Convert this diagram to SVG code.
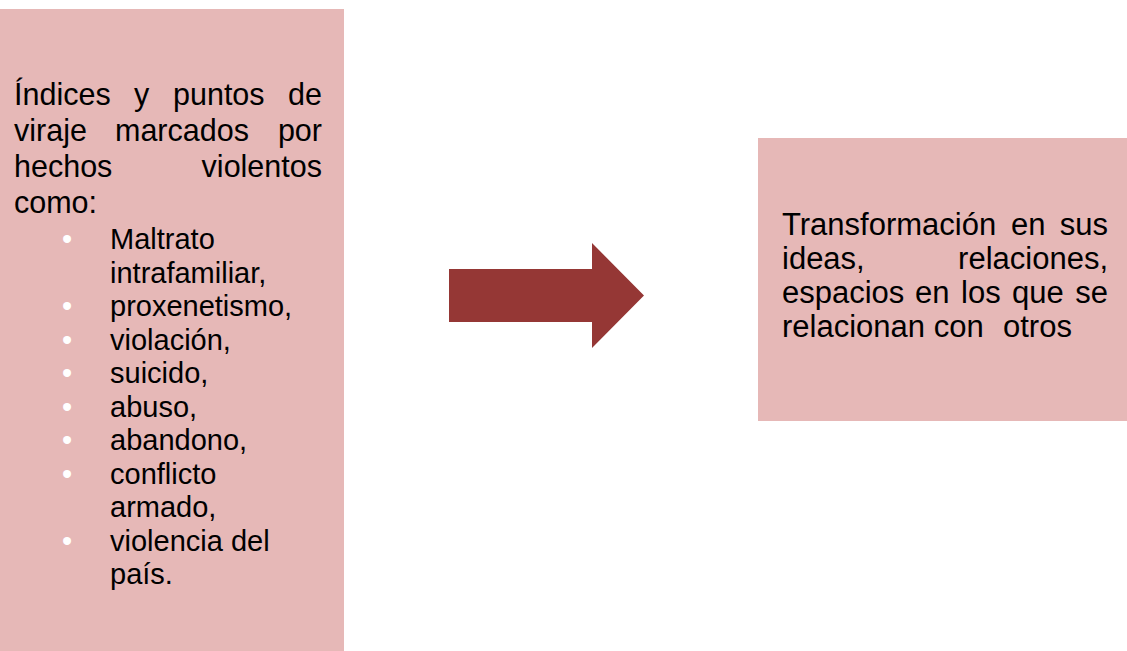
<svg xmlns="http://www.w3.org/2000/svg" width="1127" height="651" viewBox="0 0 1127 651">
<style>
.box{fill:#E6B8B7}
.t{font-family:"Liberation Sans",Arial,sans-serif;fill:#000}
.p{font-size:30.5px}
.r{font-size:31px}
.l{font-size:29px}
.b{font-family:"Liberation Sans",Arial,sans-serif;font-size:29px;fill:#fff}
.e{text-anchor:end}
</style>
<rect width="1127" height="651" fill="#fff"/>
<g id="node-left">
<rect class="box" x="0" y="9" width="344" height="642"/>
<text class="t p" y="105"><tspan x="14">Índices</tspan><tspan x="134">y</tspan><tspan x="173">puntos</tspan></text>
<text class="t p e" x="322" y="105">de</text>
<text class="t p" y="141"><tspan x="14">viraje</tspan><tspan x="115">marcados</tspan></text>
<text class="t p e" x="322" y="141">por</text>
<text class="t p" x="14" y="177">hechos</text>
<text class="t p e" x="322" y="177">violentos</text>
<text class="t p" x="14" y="213">como:</text>
<g class="b">
<text x="62" y="249">•</text>
<text x="62" y="316">•</text>
<text x="62" y="349.5">•</text>
<text x="62" y="383">•</text>
<text x="62" y="416.5">•</text>
<text x="62" y="450">•</text>
<text x="62" y="483.5">•</text>
<text x="62" y="550.5">•</text>
</g>
<g class="t l">
<text x="110" y="249">Maltrato</text>
<text x="110" y="282.5">intrafamiliar,</text>
<text x="110" y="316">proxenetismo,</text>
<text x="110" y="349.5">violación,</text>
<text x="110" y="383">suicido,</text>
<text x="110" y="416.5">abuso,</text>
<text x="110" y="450">abandono,</text>
<text x="110" y="483.5">conflicto</text>
<text x="110" y="517">armado,</text>
<text x="110" y="550.5">violencia del</text>
<text x="110" y="584">país.</text>
</g>
</g>
<g id="connectors">
<polygon points="449,269 592,269 592,243 644,295.5 592,348 592,322 449,322" fill="#953735"/>
</g>
<g id="node-right">
<rect class="box" x="758" y="138" width="369" height="283"/>
<text class="t r" y="235"><tspan x="782">Transformación</tspan><tspan x="1011">en</tspan></text>
<text class="t r e" x="1108" y="235">sus</text>
<text class="t r" x="782" y="269">ideas,</text>
<text class="t r e" x="1108" y="269">relaciones,</text>
<text class="t r" y="303"><tspan x="782">espacios</tspan><tspan x="915">en</tspan><tspan x="961">los</tspan><tspan x="1012">que</tspan></text>
<text class="t r e" x="1108" y="303">se</text>
<text class="t r" y="337"><tspan x="782">relacionan con</tspan><tspan x="1003">otros</tspan></text>
</g>
</svg>
